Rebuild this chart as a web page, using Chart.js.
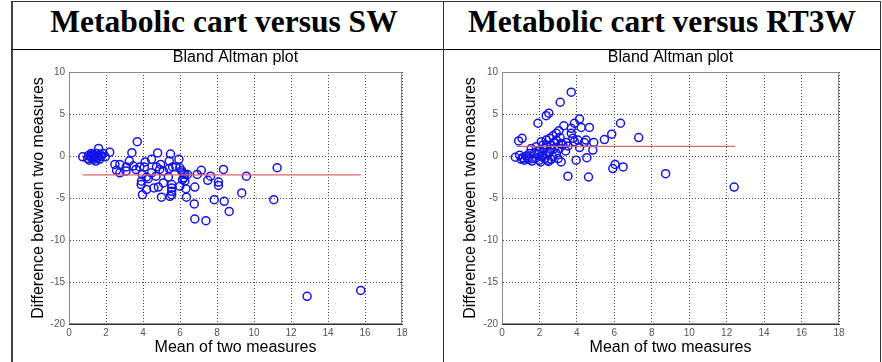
<!DOCTYPE html>
<html>
<head>
<meta charset="utf-8">
<script src="https://cdn.jsdelivr.net/npm/chart.js@4.4.1/dist/chart.umd.min.js"></script>
<style>
  html, body { margin: 0; padding: 0; background: #fff; }
  body { width: 882px; height: 362px; position: relative; overflow: hidden; }
  .rule { position: absolute; background: #333; }
  .head {
    position: absolute; top: 6px; height: 32px; line-height: 32px;
    text-align: center; white-space: nowrap;
    font-family: "Liberation Serif", "Times New Roman", serif;
    font-weight: bold; font-size: 31.5px; color: #000;
  }
  canvas { position: absolute; }
</style>
</head>
<body>
<div class="rule" style="left:11px;top:1px;width:2px;height:361px;background:#444"></div>
<div class="rule" style="left:11px;top:1px;width:870px;height:1px"></div>
<div class="rule" style="left:11px;top:49px;width:870px;height:1px;background:#000"></div>
<div class="rule" style="left:443px;top:1px;width:1px;height:361px"></div>
<div class="rule" style="left:880px;top:1px;width:1px;height:361px"></div>

<div class="head" style="left:0px;width:448px">Metabolic cart versus SW</div>
<div class="head" style="left:444px;width:436px">Metabolic cart versus RT3W</div>

<canvas id="swChart" width="430" height="318" style="left:13px;top:44px"></canvas>
<canvas id="rtChart" width="435" height="318" style="left:445px;top:44px"></canvas>

<script>
// Metabolic cart versus SW: mean of two measures / difference
const swMean = [0.74, 1.0, 1.05, 1.1, 1.15, 1.2, 1.2, 1.25, 1.3, 1.3, 1.35, 1.4, 1.45, 1.5, 1.5, 1.55, 1.6, 1.6, 1.65, 1.7, 1.75, 1.85, 1.96, 2.2,
  3.69, 3.4, 3.26, 2.48, 2.75, 2.57, 2.75, 3.08, 3.1, 3.47, 3.62, 3.83, 4.07, 4.12, 4.46, 4.79, 5.49, 5.42, 5.94, 4.95, 4.73,
  3.96, 4.19, 3.92, 3.9, 3.97, 4.19, 4.28, 4.59, 4.83, 5.1, 5.0, 4.7, 4.46, 4.9, 5.1, 5.42, 5.37, 5.55, 5.55, 5.55, 5.55, 5.46,
  5.6, 5.78, 5.99, 6.08, 6.17, 6.26, 6.4, 6.14, 6.2, 6.26, 5.99, 6.32, 6.35, 6.8, 6.77, 6.8, 6.93, 7.15, 7.4, 7.5, 7.65, 7.85,
  8.08, 8.08, 8.35, 8.39, 8.66, 9.34, 9.59, 11.07, 11.25, 12.87, 15.77];
const swDiff = [-0.1, -0.3, 0.05, -0.5, 0.0, -0.2, 0.3, 0.15, -0.4, -0.05, 0.1, -0.15, -0.6, 0.3, -0.3, -0.15, 0.9, 0.1, -0.4, 0.2, -0.05, 0.3, -0.1, 0.45,
  1.7, 0.4, -0.6, -1.0, -1.0, -1.7, -2.0, -1.8, -1.3, -1.2, -1.6, -1.3, -1.3, -0.7, -0.4, 0.36, 0.24, -0.6, -0.4, -1.0, -1.3,
  -2.2, -2.5, -3.0, -3.4, -4.6, -4.0, -2.7, -3.8, -3.7, -3.2, -4.9, -2.4, -2.0, -1.6, -1.8, -1.5, -2.5, -3.4, -3.8, -4.2, -4.6, -4.8,
  -1.3, -1.3, -1.4, -1.75, -2.0, -2.2, -2.2, -2.8, -2.6, -3.0, -3.6, -3.9, -4.9, -3.7, -5.7, -7.5, -2.2, -1.7, -7.7, -2.9, -2.4, -5.2,
  -3.1, -3.5, -1.6, -5.4, -6.6, -4.4, -2.4, -5.2, -1.4, -16.7, -16.0];
const swBiasX = [0.74, 15.77];
const swBias = -2.25;

// Metabolic cart versus RT3W
const rtMean = [0.71, 0.89, 1.07, 1.92, 2.36, 2.5, 3.11, 3.7, 4.14, 3.87, 3.7, 3.3, 4.23, 4.67, 3.7, 3.79, 3.04, 2.9, 2.72, 2.54,
  2.36, 2.1, 2.36, 2.63, 2.9, 3.16, 3.43, 3.52, 3.87, 4.05, 4.4, 4.49, 4.9, 4.85, 4.14, 5.47, 5.86, 6.33, 7.3, 3.16,
  3.96, 4.53, 3.52, 4.62, 5.92, 6.04, 6.47, 8.74, 12.4,
  1.03, 1.3, 1.47, 1.56, 1.42, 1.65, 1.74, 2.0, 2.0, 2.18, 2.27, 2.45, 2.54, 2.72, 2.9, 3.0, 2.8, 3.07, 3.25, 0.94,
  1.2, 1.83, 2.06, 2.63, 2.27, 1.83, 1.1, 2.1, 1.6, 1.9, 2.4, 2.2, 2.6, 3.4, 1.35, 2.8, 3.1, 2.49];
const rtDiff = [-0.15, 1.8, 2.1, 3.9, 4.8, 5.1, 6.4, 7.6, 4.4, 3.9, 3.3, 3.6, 3.4, 3.4, 2.7, 2.1, 3.0, 2.7, 2.4, 2.1,
  1.9, 1.7, 1.3, 1.3, 1.9, 1.5, 1.6, 1.2, 1.7, 1.9, 1.6, 1.9, 1.6, 0.7, 1.0, 1.95, 2.6, 3.9, 2.2, -0.7,
  -0.5, -0.2, -2.4, -2.5, -1.5, -1.0, -1.3, -2.1, -3.7,
  -0.4, 0.0, 0.3, 0.9, -0.4, -0.3, 0.4, -0.5, 0.6, 0.1, 0.9, -0.5, 0.5, -0.1, 0.3, -0.3, 0.9, 0.9, 1.3, 0.1,
  -0.5, -0.2, -0.7, -0.4, -0.3, 1.1, -0.2, -0.05, -0.6, 0.2, 0.2, 1.3, 0.8, 0.6, -0.2, 1.6, 2.2, -0.65];
const rtBiasX = [0.76, 12.45];
const rtBias = 1.15;

const xTicks = { min: 0, max: 18, step: 2 };
const yTicks = { min: -20, max: 10, step: 5 };

const FONT = '"Liberation Sans", Arial, sans-serif';

// box around the plot area, like matlab's axes
const framePlugin = {
  id: 'frame',
  beforeDatasetsDraw(chart) {
    const { ctx, chartArea: a } = chart;
    ctx.save();
    ctx.strokeStyle = '#8a8a8a';
    ctx.lineWidth = 1;
    ctx.strokeRect(Math.round(a.left) + 0.5, Math.round(a.top) + 0.5,
      Math.round(a.width) - 1, Math.round(a.height) - 1);
    ctx.restore();
  }
};

function makeChart(id, means, diffs, biasX, bias) {
  const pts = means.map((m, i) => ({ x: m, y: diffs[i] }));
  const line = biasX.map(x => ({ x: x, y: bias }));
  const ctx = document.getElementById(id).getContext('2d');
  return new Chart(ctx, {
    type: 'scatter',
    data: {
      datasets: [{
        data: pts,
        pointStyle: 'circle',
        pointRadius: 4,
        pointBorderWidth: 1.5,
        pointBorderColor: '#1414e8',
        pointBackgroundColor: 'rgba(0,0,0,0)',
        order: 2
      }, {
        type: 'line',
        data: line,
        borderColor: '#e2606c',
        borderWidth: 1.3,
        pointRadius: 0,
        fill: false,
        order: 1
      }]
    },
    options: {
      responsive: false,
      animation: false,
      events: [],
      layout: { autoPadding: false, padding: { left: 0, right: 41, top: 0, bottom: 2 } },
      plugins: {
        legend: { display: false },
        tooltip: { enabled: false },
        title: {
          display: true,
          text: 'Bland Altman plot',
          fullSize: false,
          color: '#000',
          font: { family: FONT, size: 16, weight: 'normal' },
          padding: { top: 4, bottom: 4.8 }
        }
      },
      scales: {
        x: {
          type: 'linear',
          min: xTicks.min, max: xTicks.max,
          afterFit: s => { s.height = 36; },
          ticks: { stepSize: xTicks.step, color: '#555', padding: 3, font: { family: FONT, size: 10 } },
          grid: { color: '#444', lineWidth: 1, drawTicks: false },
          border: { color: '#333', width: 1, dash: [1, 2] },
          title: {
            display: true, text: 'Mean of two measures', color: '#000',
            font: { family: FONT, size: 16 }, padding: { top: 0, bottom: 2.4 }
          }
        },
        y: {
          type: 'linear',
          min: yTicks.min, max: yTicks.max,
          afterFit: s => { s.width = s.chart.canvas.id === 'rtChart' ? 57 : 56; },
          ticks: { stepSize: yTicks.step, color: '#555', padding: 4, font: { family: FONT, size: 10 } },
          grid: { color: '#444', lineWidth: 1, drawTicks: false },
          border: { color: '#333', width: 1, dash: [1, 2] },
          title: {
            display: true, text: 'Difference between two measures', color: '#000',
            font: { family: FONT, size: 16 }, padding: { top: 16.4, bottom: 0 }
          }
        }
      }
    },
    plugins: [framePlugin]
  });
}

makeChart('swChart', swMean, swDiff, swBiasX, swBias);
makeChart('rtChart', rtMean, rtDiff, rtBiasX, rtBias);
</script>
</body>
</html>
